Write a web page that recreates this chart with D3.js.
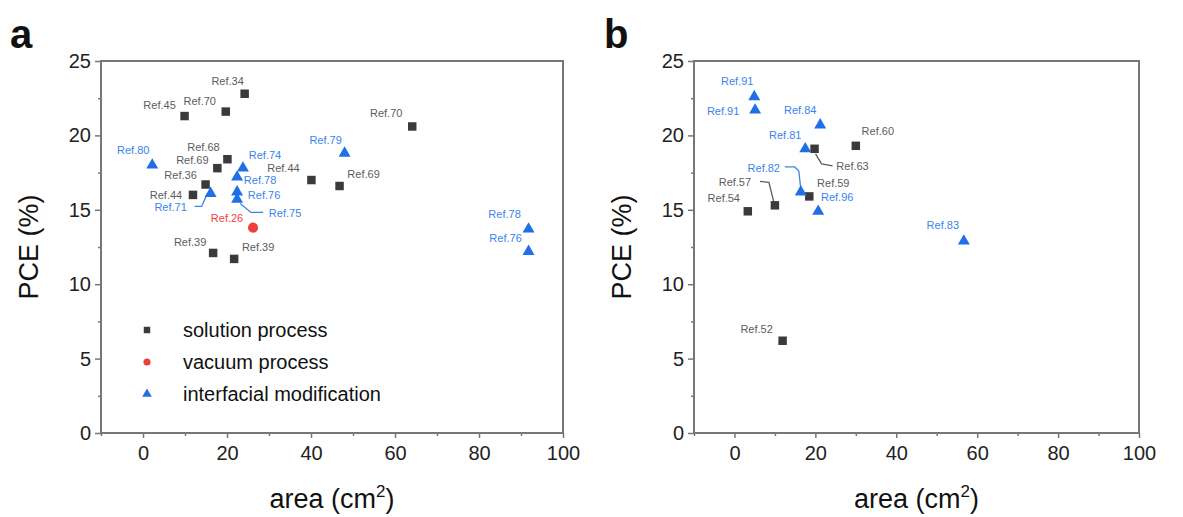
<!DOCTYPE html>
<html>
<head>
<meta charset="utf-8">
<script src="https://cdn.jsdelivr.net/npm/d3@7"></script>
<style>
body{margin:0;background:#fff}
svg{display:block;font-family:Arial,"Liberation Sans",sans-serif}
</style>
</head>
<body>
<svg id="chart" width="1183" height="517"></svg>
<script>
const xTicks = [0, 20, 40, 60, 80, 100];
const yTicks = [0, 5, 10, 15, 20, 25];
const xMinor = [-10, 10, 30, 50, 70, 90];
const yMinor = [2.5, 7.5, 12.5, 17.5, 22.5];
const legendNames = ["solution process", "vacuum process", "interfacial modification"];

// panel a  [ref, area, PCE]
const solutionA = [["Ref.34", 24.2, 22.8], ["Ref.70", 19.7, 21.6], ["Ref.45", 9.9, 21.3], ["Ref.68", 20.1, 18.4],
  ["Ref.69", 17.7, 17.8], ["Ref.36", 14.9, 16.7], ["Ref.44", 11.9, 16.0], ["Ref.39", 16.7, 12.1],
  ["Ref.39", 21.7, 11.7], ["Ref.44", 40.1, 17.0], ["Ref.69", 46.8, 16.6], ["Ref.70", 64.1, 20.6]];
const vacuumA = [["Ref.26", 26.2, 13.8]];
const interfaceA = [["Ref.80", 2.2, 18.0], ["Ref.71", 16.1, 16.1], ["Ref.74", 23.8, 17.8], ["Ref.78", 22.4, 17.2],
  ["Ref.76", 22.4, 16.2], ["Ref.75", 22.4, 15.7], ["Ref.79", 48.0, 18.8], ["Ref.78", 91.8, 13.7], ["Ref.76", 91.8, 12.2]];

// panel b
const solutionB = [["Ref.63", 19.8, 19.1], ["Ref.60", 30.0, 19.3], ["Ref.59", 18.5, 15.9], ["Ref.57", 10.0, 15.3],
  ["Ref.54", 3.3, 14.9], ["Ref.52", 11.9, 6.2]];
const interfaceB = [["Ref.91", 4.9, 22.6], ["Ref.91", 5.1, 21.7], ["Ref.84", 21.2, 20.7], ["Ref.81", 17.5, 19.1],
  ["Ref.82", 16.4, 16.2], ["Ref.96", 20.7, 14.9], ["Ref.83", 56.7, 12.9]];

// label placement: [dx, dy, leader points relative to marker]
const labA_sol = [[-17,-13],[-26,-11],[-25,-11],[-24,-12],[-25,-8],[-25,-10],[-27,0],[-23,-11],[24,-12],[-28,-12],[24,-12],[-26,-13]];
const labA_vac = [[-26,-10]];
const labA_int = [[-19,-15],[-40,14,[[-16,13],[-9,13],[-5,4],[-2,0]]],[22,-13],[23,3],[27,3],
  [48,14,[[26,13],[14,13],[3,4]]],[-19,-13],[-24,-15],[-23,-13]];
const labB_sol = [[38,17,[[1,5],[7,15],[18,17]]],[22,-15],[24,-13],[-40,-23,[[-15,-24],[-6,-23],[-1,-3]]],[-24,-13],[-26,-12]];
const labB_int = [[-17,-16],[-32,1],[-20,-15],[-20,-14],[-37,-24,[[-16,-25],[-6,-25],[-2,-21],[0,-3]]],[19,-14],[-21,-16]];

const C = {sq: "#3a3a3a", sqTxt: "#5c5c5c", blue: "#1f6fe6", blueTxt: "#3a84ea", red: "#f23d3d", axis: "#777"};
const svg = d3.select("#chart");

function panel(xr, letter, letterX, series, withLegend) {
  const x = d3.scaleLinear().domain([-10, 100]).range(xr);
  const y = d3.scaleLinear().domain([0, 25]).range([433, 61]);
  const g = svg.append("g");

  g.append("g").attr("transform", "translate(0,433)")
    .call(d3.axisBottom(x).tickValues(xMinor).tickSize(3).tickFormat(""));
  g.append("g").attr("transform", "translate(0,433)")
    .call(d3.axisBottom(x).tickValues(xTicks).tickSize(5).tickPadding(8));
  g.append("g").attr("transform", `translate(${xr[0]},0)`)
    .call(d3.axisLeft(y).tickValues(yMinor).tickSize(3).tickFormat(""));
  g.append("g").attr("transform", `translate(${xr[0]},0)`)
    .call(d3.axisLeft(y).tickValues(yTicks).tickSize(6).tickPadding(4));
  g.selectAll(".domain").remove();
  g.selectAll(".tick line").attr("stroke", C.axis).attr("stroke-width", 1.5);
  g.selectAll(".tick text").attr("font-size", 20).attr("fill", "#222");

  g.append("rect").attr("x", xr[0]).attr("y", 61).attr("width", xr[1] - xr[0]).attr("height", 372)
    .attr("fill", "none").attr("stroke", C.axis).attr("stroke-width", 2);

  // titles
  const xm = (xr[0] + xr[1]) / 2;
  const xt = g.append("text").attr("x", xm).attr("y", 508).attr("text-anchor", "middle")
    .attr("font-size", 27).attr("fill", "#111").text("area (cm");
  xt.append("tspan").attr("font-size", 17).attr("dy", -11).text("2");
  xt.append("tspan").attr("dy", 11).text(")");
  g.append("text").attr("transform", `translate(${xr[0] - 63},247) rotate(-90)`)
    .attr("text-anchor", "middle").attr("font-size", 27).attr("fill", "#111").text("PCE (%)");
  g.append("text").attr("x", letterX).attr("y", 48).attr("font-size", 40).attr("font-weight", "bold")
    .attr("fill", "#111").text(letter);

  const line = d3.line();
  series.forEach(s => {
    const pts = g.append("g");
    s.data.forEach((d, i) => {
      const px = x(d[1]), py = y(d[2]);
      const lab = s.lab[i];
      if (lab[2]) {
        pts.append("path").attr("d", line(lab[2].map(p => [px + p[0], py + p[1]])))
          .attr("fill", "none").attr("stroke", s.txt).attr("stroke-width", 1.3);
      }
      pts.append("text").attr("x", px + lab[0]).attr("y", py + lab[1])
        .attr("text-anchor", "middle").attr("dominant-baseline", "central")
        .attr("font-size", 11).attr("fill", s.txt).text(d[0]);
    });
    g.selectAll(null).data(s.data).join("path")
      .attr("transform", d => `translate(${x(d[1])},${y(d[2])})`)
      .attr("d", d3.symbol(s.shape, s.size)).attr("fill", s.fill);
  });

  if (withLegend) {
    const leg = [[d3.symbolSquare, 42, C.sq], [d3.symbolCircle, 40, C.red], [d3.symbolTriangle, 40, C.blue]];
    legendNames.forEach((n, i) => {
      const ly = 330 + i * 32;
      g.append("path").attr("transform", `translate(147,${ly})`)
        .attr("d", d3.symbol(leg[i][0], leg[i][1])).attr("fill", leg[i][2]);
      g.append("text").attr("x", 183).attr("y", ly).attr("dominant-baseline", "central")
        .attr("font-size", 20).attr("fill", "#111").text(n);
    });
  }
}

panel([101, 563], "a", 10, [
  {data: solutionA, lab: labA_sol, shape: d3.symbolSquare, size: 72, fill: C.sq, txt: C.sqTxt},
  {data: vacuumA, lab: labA_vac, shape: d3.symbolCircle, size: 80, fill: C.red, txt: C.red},
  {data: interfaceA, lab: labA_int, shape: d3.symbolTriangle, size: 62, fill: C.blue, txt: C.blueTxt}
], true);

panel([694, 1139], "b", 604, [
  {data: solutionB, lab: labB_sol, shape: d3.symbolSquare, size: 72, fill: C.sq, txt: C.sqTxt},
  {data: interfaceB, lab: labB_int, shape: d3.symbolTriangle, size: 62, fill: C.blue, txt: C.blueTxt}
], false);
</script>
</body>
</html>
